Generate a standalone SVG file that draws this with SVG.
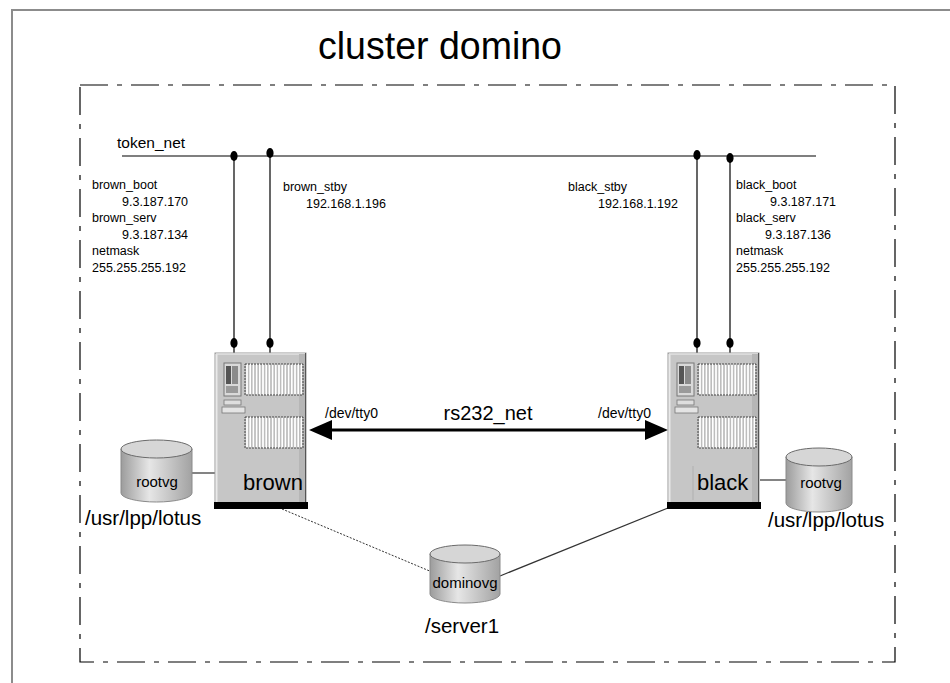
<svg xmlns="http://www.w3.org/2000/svg" xmlns:xlink="http://www.w3.org/1999/xlink" width="950" height="683" viewBox="0 0 950 683">
  <style>
    text { font-family: "Liberation Sans", Arial, sans-serif; fill: #000; }
    .small { font-size: 12.5px; }
    .big { font-size: 20.5px; }
    .disklabel { font-size: 15px; text-anchor: middle; }
    .host { font-size: 22px; }
    .wire { stroke: #000; stroke-width: 1.2; fill: none; }
    .link { stroke: #333; stroke-width: 1.2; fill: none; }
  </style>
  <defs>
    <linearGradient id="diskBody" x1="0" y1="0" x2="1" y2="0">
      <stop offset="0" stop-color="#9c9c9c"/>
      <stop offset="0.4" stop-color="#e6e6e6"/>
      <stop offset="1" stop-color="#a2a2a2"/>
    </linearGradient>
    <pattern id="grilleBars" width="3.2" height="4" patternUnits="userSpaceOnUse">
      <rect width="3.2" height="4" fill="#ffffff"/>
      <line x1="1.6" y1="0" x2="1.6" y2="4" stroke="#8a8a8a" stroke-width="0.9"/>
    </pattern>
    <!-- tower server chassis, origin at top-left of the cabinet -->
    <g id="server">
      <rect x="0" y="0" width="91" height="150" fill="#c6c6c6" stroke="#9a9a9a" stroke-width="1"/>
      <line x1="1.5" y1="1" x2="1.5" y2="149" stroke="#e9e9e9" stroke-width="2"/>
      <line x1="1" y1="1" x2="90" y2="1" stroke="#e2e2e2" stroke-width="1.5"/>
      <rect x="84" y="1" width="6" height="148" fill="#b6b6b6"/>
      <line x1="90.5" y1="0" x2="90.5" y2="150" stroke="#555" stroke-width="1"/>
      <!-- control panel -->
      <rect x="9" y="10" width="17" height="33" fill="#d9d9d9" stroke="#777" stroke-width="1"/>
      <rect x="11" y="13" width="5" height="18" fill="#555"/>
      <rect x="17" y="13" width="6" height="18" fill="#8a8a8a"/>
      <rect x="11" y="33" width="12" height="7" fill="#9a9a9a"/>
      <!-- upper drive grille -->
      <rect x="30" y="11" width="58" height="31" fill="url(#grilleBars)" stroke="#444" stroke-width="1" stroke-dasharray="2 1"/>
      <!-- media slots -->
      <rect x="9" y="47" width="17" height="5" fill="#dedede" stroke="#777" stroke-width="0.8"/>
      <rect x="7" y="54" width="23" height="6" fill="#e4e4e4" stroke="#777" stroke-width="0.8"/>
      <!-- lower drive grille -->
      <rect x="30" y="64" width="58" height="31" fill="url(#grilleBars)" stroke="#444" stroke-width="1" stroke-dasharray="2 1"/>
      <!-- base -->
      <rect x="-1" y="149" width="94" height="7" fill="#000"/>
    </g>
  </defs>

  <rect x="0" y="0" width="950" height="683" fill="#ffffff"/>

  <!-- outer frame -->
  <path d="M12,683 V10 H950" fill="none" stroke="#8c8c8c" stroke-width="2"/>

  <text x="440" y="59" font-size="39" text-anchor="middle" textLength="244" lengthAdjust="spacingAndGlyphs">cluster domino</text>

  <!-- cluster boundary -->
  <rect x="80" y="85" width="815" height="577" fill="none" stroke="#000" stroke-width="1.2" stroke-dasharray="28 9 5 9"/>

  <!-- token ring network -->
  <g id="token_net">
    <line class="wire" x1="122" y1="156" x2="816" y2="156"/>
    <text x="117" y="148" font-size="15.5">token_net</text>
  </g>

  <!-- address labels -->
  <g id="brown_addresses">
    <text class="small" x="92" y="189">brown_boot</text>
    <text class="small" x="122" y="205.5">9.3.187.170</text>
    <text class="small" x="92" y="222">brown_serv</text>
    <text class="small" x="122" y="238.5">9.3.187.134</text>
    <text class="small" x="92" y="255">netmask</text>
    <text class="small" x="92" y="271.5">255.255.255.192</text>
    <text class="small" x="283" y="191">brown_stby</text>
    <text class="small" x="306" y="207.5">192.168.1.196</text>
  </g>
  <g id="black_addresses">
    <text class="small" x="568" y="191">black_stby</text>
    <text class="small" x="598" y="207.5">192.168.1.192</text>
    <text class="small" x="736" y="189">black_boot</text>
    <text class="small" x="770" y="205.5">9.3.187.171</text>
    <text class="small" x="736" y="222">black_serv</text>
    <text class="small" x="765" y="238.5">9.3.187.136</text>
    <text class="small" x="736" y="255">netmask</text>
    <text class="small" x="736" y="271.5">255.255.255.192</text>
  </g>

  <!-- connectors -->
  <g id="connectors">
    <!-- adapter drops from token_net -->
    <line class="wire" x1="234" y1="156" x2="234" y2="353"/>
    <line class="wire" x1="270" y1="153" x2="270" y2="353"/>
    <line class="wire" x1="697" y1="155" x2="697" y2="353"/>
    <line class="wire" x1="730" y1="158" x2="730" y2="353"/>
    <ellipse cx="234" cy="156" rx="3.6" ry="5" fill="#000"/>
    <ellipse cx="270" cy="153" rx="3.6" ry="5" fill="#000"/>
    <ellipse cx="697" cy="155" rx="3.6" ry="5" fill="#000"/>
    <ellipse cx="730" cy="158" rx="3.6" ry="5" fill="#000"/>
    <ellipse cx="234" cy="343" rx="3.6" ry="5" fill="#000"/>
    <ellipse cx="270" cy="343" rx="3.6" ry="5" fill="#000"/>
    <ellipse cx="697" cy="343" rx="3.6" ry="5" fill="#000"/>
    <ellipse cx="730" cy="343" rx="3.6" ry="5" fill="#000"/>

    <!-- rs232 serial link -->
    <line x1="328" y1="430" x2="649" y2="430" stroke="#000" stroke-width="3"/>
    <polygon points="309,430 332,420 332,440" fill="#000"/>
    <polygon points="668,430 645,420 645,440" fill="#000"/>

    <!-- disk attachments -->
    <line class="link" x1="192" y1="473" x2="215" y2="473"/>
    <line class="link" x1="760" y1="480" x2="786" y2="480"/>
    <line x1="282" y1="509" x2="432" y2="572" stroke="#333" stroke-width="1" stroke-dasharray="2 1.5"/>
    <line class="link" x1="500" y1="576" x2="668" y2="508"/>
  </g>

  <g id="rs232_labels">
    <text x="488" y="420" font-size="20" text-anchor="middle">rs232_net</text>
    <text x="325" y="418" font-size="14">/dev/tty0</text>
    <text x="598" y="418" font-size="14">/dev/tty0</text>
  </g>

  <!-- nodes -->
  <g id="brown">
    <use xlink:href="#server" x="215" y="353"/>
    <text class="host" x="243" y="490">brown</text>
  </g>

  <g id="black">
    <use xlink:href="#server" x="668" y="353"/>
    <line x1="693" y1="466" x2="693" y2="500" stroke="#b0b0b0" stroke-width="1"/>
    <text class="host" x="697" y="490">black</text>
  </g>

  <g id="rootvg_brown">
    <path d="M121,449 V493 A35.5,9 0 0 0 192,493 V449 Z" fill="url(#diskBody)" stroke="#8a8a8a" stroke-width="1"/>
    <ellipse cx="156.5" cy="449" rx="35.5" ry="9" fill="#d6d6d6" stroke="#6a6a6a" stroke-width="1"/>
    <text class="disklabel" x="157" y="487">rootvg</text>
    <text class="big" x="85" y="525">/usr/lpp/lotus</text>
  </g>

  <g id="rootvg_black">
    <path d="M786,457 V503 A33,9 0 0 0 852,503 V457 Z" fill="url(#diskBody)" stroke="#8a8a8a" stroke-width="1"/>
    <ellipse cx="819" cy="457" rx="33" ry="9" fill="#d6d6d6" stroke="#6a6a6a" stroke-width="1"/>
    <text class="disklabel" x="821" y="488">rootvg</text>
    <text class="big" x="768" y="527">/usr/lpp/lotus</text>
  </g>

  <g id="dominovg">
    <path d="M430,554 V594 A35,9 0 0 0 500,594 V554 Z" fill="url(#diskBody)" stroke="#8a8a8a" stroke-width="1"/>
    <ellipse cx="465" cy="554" rx="35" ry="9" fill="#d6d6d6" stroke="#6a6a6a" stroke-width="1"/>
    <text class="disklabel" x="465" y="588">dominovg</text>
    <text class="big" x="425" y="633">/server1</text>
  </g>
</svg>
